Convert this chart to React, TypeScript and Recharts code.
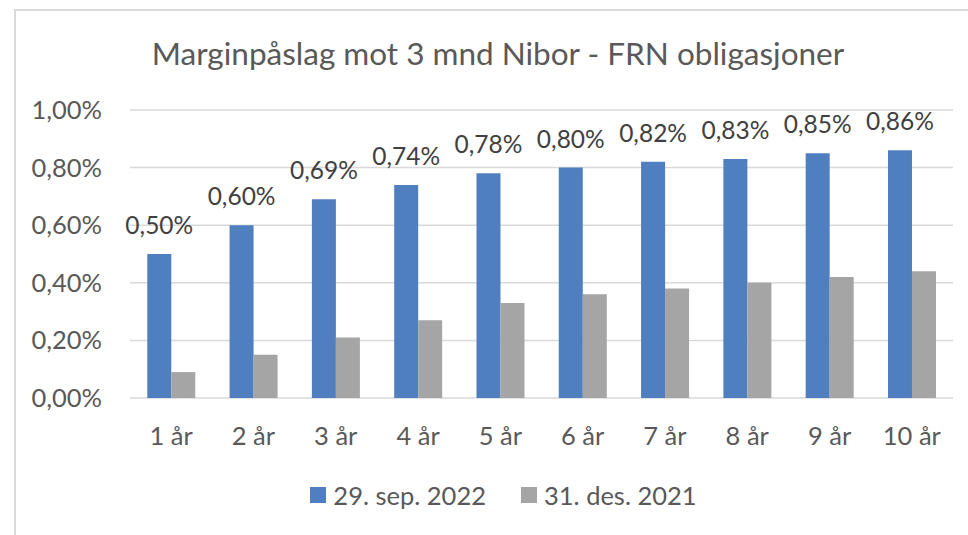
import React from 'react';
import { BarChart, Bar, XAxis, YAxis, CartesianGrid, Legend, LabelList } from 'recharts';

const categories = ['1 år', '2 år', '3 år', '4 år', '5 år', '6 år', '7 år', '8 år', '9 år', '10 år'];
const sep2022 = [0.5, 0.6, 0.69, 0.74, 0.78, 0.8, 0.82, 0.83, 0.85, 0.86];
const des2021 = [0.09, 0.15, 0.21, 0.27, 0.33, 0.36, 0.38, 0.4, 0.42, 0.44];
const yTicks = [0, 0.2, 0.4, 0.6, 0.8, 1.0];

const data = categories.map((name, i) => ({ name, sep: sep2022[i], des: des2021[i] }));

const pct = (v: number) => v.toFixed(2).replace('.', ',') + '%';

const FONT = 'Lato, "Open Sans", sans-serif';
const BLUE = '#4F7FBE';
const GRAY = '#A5A5A5';

const LegendContent = (props: any) => {
  const items = props.payload || [];
  return (
    <div style={{ display: 'flex', justifyContent: 'center', paddingTop: 42, paddingLeft: 54, fontFamily: FONT, fontSize: 25.5, color: '#595959', lineHeight: '30px' }}>
      {items.map((it: any, i: number) => (
        <div key={i} style={{ display: 'flex', alignItems: 'center', marginRight: i === 0 ? 35 : 0 }}>
          <span style={{ display: 'inline-block', width: 16, height: 16, background: it.color, marginRight: 7 }} />
          <span>{it.value}</span>
        </div>
      ))}
    </div>
  );
};

const App: React.FC = () => {
  return (
    <div style={{ position: 'absolute', left: 0, top: 0, width: 968, height: 535, background: '#fff' }}>
      <div style={{ position: 'absolute', left: 14, top: 9, right: 0, bottom: 0, borderTop: '2px solid #D9D9D9', borderLeft: '2px solid #D9D9D9' }} />
      <div style={{ position: 'absolute', left: 0, width: 996, top: 34, textAlign: 'center', fontFamily: FONT, fontSize: 31.5, color: '#595959', lineHeight: '38px' }}>
        Marginpåslag mot 3 mnd Nibor - FRN obligasjoner
      </div>
      <BarChart
        width={968}
        height={535}
        data={data}
        margin={{ top: 110, right: 15, left: 0, bottom: 20 }}
        barCategoryGap="21%"
        barGap={0}
        style={{ position: 'absolute', left: 0, top: 0 }}
      >
        <CartesianGrid vertical={false} stroke="#D9D9D9" strokeWidth={1.5} />
        <XAxis
          dataKey="name"
          axisLine={false}
          tickLine={false}
          tickSize={0}
          tickMargin={29}
          height={40}
          interval={0}
          tick={{ fill: '#595959', fontSize: 25.5, fontFamily: FONT }}
        />
        <YAxis
          width={130}
          domain={[0, 1]}
          ticks={yTicks}
          tickFormatter={pct}
          axisLine={false}
          tickLine={false}
          tickSize={0}
          tickMargin={28}
          tick={{ fill: '#595959', fontSize: 25.5, fontFamily: FONT }}
        />
        <Legend verticalAlign="bottom" height={77} content={<LegendContent />} />
        <Bar dataKey="sep" name="29. sep. 2022" fill={BLUE} isAnimationActive={false}>
          <LabelList dataKey="sep" position="top" offset={20} formatter={(v: any) => pct(Number(v))} style={{ fill: '#404040', fontSize: 24.5, fontFamily: FONT }} />
        </Bar>
        <Bar dataKey="des" name="31. des. 2021" fill={GRAY} isAnimationActive={false} />
      </BarChart>
    </div>
  );
};

export default App;
